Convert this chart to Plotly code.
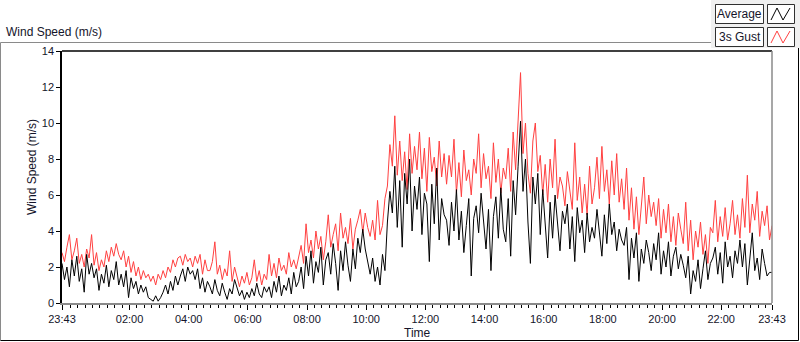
import plotly.graph_objects as go
import pandas as pd

# ---- data: 5-minute samples, 23:43 -> 23:43 next day ----
start = "2023-01-01 23:43"
avg_by_hour = [
    [2.2, 1.3, 2.0, 0.9, 2.4, 1.5, 2.6, 1.2, 1.9, 0.6, 2.7, 1.6],
    [2.2, 1.4, 1.9, 0.7, 1.6, 1.1, 2.1, 0.9, 1.8, 1.3, 2.3, 1.0],
    [1.6, 0.9, 1.8, 0.3, 1.4, 0.8, 1.2, 0.5, 1.0, 0.6, 0.9, 0.3],
    [0.2, 0.1, 0.4, 0.1, 0.3, 0.6, 1.0, 0.5, 1.2, 0.7, 1.5, 1.0],
    [1.5, 1.9, 1.2, 2.0, 1.6, 1.8, 1.3, 1.9, 0.8, 1.4, 0.6, 1.2],
    [0.9, 0.5, 1.3, 0.7, 0.4, 1.1, 0.6, 0.2, 0.8, 0.5, 1.3, 0.9],
    [0.4, 0.7, 0.2, 0.6, 0.3, 0.8, 0.4, 1.1, 0.5, 0.3, 0.9, 0.6],
    [0.9, 0.3, 1.2, 0.6, 1.5, 0.4, 1.0, 0.7, 1.4, 0.5, 1.7, 0.9],
    [1.2, 2.0, 0.8, 2.6, 1.5, 2.9, 1.1, 2.3, 1.7, 3.1, 1.0, 2.4],
    [2.8, 1.6, 3.3, 2.2, 0.7, 2.9, 1.8, 3.4, 2.1, 1.2, 3.0, 1.9],
    [3.6, 2.8, 4.1, 3.0, 2.2, 1.6, 2.5, 1.2, 2.0, 1.0, 2.7, 1.8],
    [4.5, 6.2, 5.0, 7.6, 4.2, 6.8, 3.1, 7.2, 5.5, 8.0, 4.0, 6.5],
    [5.2, 7.0, 3.8, 6.1, 5.5, 2.3, 6.6, 4.4, 7.5, 3.5, 5.8, 4.9],
    [4.6, 3.2, 5.6, 4.0, 6.3, 3.5, 5.1, 2.8, 4.3, 5.8, 1.5, 4.7],
    [5.4, 3.9, 6.1, 4.4, 3.0, 5.2, 1.8, 4.8, 5.9, 3.6, 6.4, 4.1],
    [3.4, 5.8, 2.6, 6.8, 4.9, 7.6, 10.1, 6.2, 8.0, 4.5, 2.2, 7.0],
    [5.5, 7.2, 3.8, 6.3, 4.1, 2.5, 5.6, 3.6, 6.0, 4.3, 2.9, 5.1],
    [4.4, 5.5, 3.0, 4.8, 2.3, 5.3, 3.9, 4.6, 2.8, 5.0, 3.4, 4.2],
    [3.6, 5.2, 4.0, 2.6, 4.9, 3.3, 5.5, 3.8, 4.5, 2.9, 4.1, 3.5],
    [3.2, 4.2, 1.3, 3.6, 2.5, 3.9, 1.2, 3.0, 2.2, 3.5, 2.8, 1.8],
    [3.3, 2.4, 3.9, 1.6, 2.9, 2.0, 3.4, 1.5, 2.6, 3.1, 1.9, 2.7],
    [2.1, 1.4, 2.6, 0.5, 1.8, 1.2, 2.4, 0.8, 1.9, 2.9, 1.3, 2.2],
    [2.5, 3.1, 1.6, 2.8, 1.1, 3.4, 2.0, 2.6, 1.4, 2.9, 2.2, 3.5],
    [2.0, 3.3, 1.0, 2.7, 3.9, 1.8, 2.5, 1.3, 3.0, 2.2, 1.5, 1.7],
    [1.7],
]
gust_by_hour = [
    [2.8, 2.3, 3.1, 3.8, 2.4, 2.9, 3.6, 2.2, 2.7, 2.0, 3.0, 2.5],
    [3.8, 2.1, 2.8, 1.8, 2.4, 2.0, 2.9, 2.3, 3.1, 2.6, 3.3, 2.7],
    [2.4, 2.9, 2.0, 2.6, 1.7, 2.3, 1.5, 2.0, 1.3, 1.8, 1.4, 1.6],
    [1.2, 1.5, 1.0, 1.6, 1.3, 1.8, 1.4, 2.0, 1.7, 2.4, 2.0, 2.5],
    [2.6, 2.1, 2.7, 2.3, 2.5, 2.0, 2.6, 2.2, 2.7, 1.6, 2.4, 1.8],
    [1.8, 2.3, 3.4, 1.6, 2.1, 1.3, 1.9, 1.5, 2.9, 1.2, 2.0, 1.4],
    [0.9, 1.5, 1.1, 1.7, 1.0, 1.4, 2.4, 1.2, 1.8, 1.0, 1.6, 1.3],
    [2.7, 1.5, 2.2, 1.4, 2.5, 1.8, 2.1, 1.6, 2.8, 2.0, 2.4, 1.9],
    [2.6, 3.2, 2.2, 4.4, 2.8, 3.5, 2.5, 4.0, 3.0, 3.7, 2.4, 3.4],
    [4.9, 3.1, 3.8, 4.4, 2.9, 5.0, 3.6, 4.2, 3.3, 4.7, 3.0, 4.1],
    [4.6, 5.2, 3.9, 5.0, 4.2, 3.7, 4.6, 3.5, 5.7, 3.8, 4.3, 5.8],
    [6.5, 8.8, 7.6, 10.4, 7.1, 9.0, 6.8, 8.4, 6.3, 9.4, 7.2, 8.7],
    [7.4, 9.5, 6.9, 8.6, 6.2, 9.2, 7.3, 8.1, 6.5, 9.0, 7.0, 8.3],
    [6.6, 8.2, 7.0, 9.1, 6.1, 7.8, 5.9, 8.5, 6.8, 7.4, 6.0, 8.0],
    [7.2, 9.4, 6.4, 8.3, 6.9, 7.6, 5.8, 8.9, 6.7, 8.0, 6.1, 7.5],
    [6.9, 8.6, 6.2, 9.5, 7.4, 9.9, 12.8, 8.3, 10.0, 7.2, 6.1, 9.0],
    [10.0, 7.3, 8.2, 6.0, 7.7, 5.6, 8.0, 6.4, 9.1, 5.8, 7.0, 6.5],
    [5.4, 7.3, 6.1, 5.2, 8.9, 5.7, 7.0, 5.0, 6.6, 4.9, 7.6, 5.5],
    [6.4, 8.1, 5.8, 8.7, 6.2, 7.4, 5.5, 7.9, 6.0, 8.3, 5.6, 6.9],
    [5.2, 7.5, 4.6, 6.4, 4.1, 5.9, 3.8, 5.5, 7.0, 4.4, 6.0, 4.8],
    [5.6, 4.3, 5.8, 3.6, 5.2, 3.9, 5.5, 3.4, 4.8, 3.2, 5.0, 4.1],
    [3.3, 5.6, 2.9, 4.6, 2.4, 4.0, 3.1, 4.5, 2.7, 3.8, 2.2, 4.2],
    [3.9, 5.7, 3.4, 4.8, 3.7, 5.3, 3.5, 4.4, 5.7, 3.8, 4.9, 3.6],
    [5.8, 4.2, 7.1, 3.9, 5.5, 4.6, 6.2, 3.7, 5.1, 4.3, 5.4, 3.5],
    [4.3],
]
tick_times = ["2023-01-01 23:43", "2023-01-02 02:00", "2023-01-02 04:00", "2023-01-02 06:00",
              "2023-01-02 08:00", "2023-01-02 10:00", "2023-01-02 12:00", "2023-01-02 14:00",
              "2023-01-02 16:00", "2023-01-02 18:00", "2023-01-02 20:00", "2023-01-02 22:00",
              "2023-01-02 23:43"]
tick_labels = ["23:43", "02:00", "04:00", "06:00", "08:00", "10:00", "12:00", "14:00",
               "16:00", "18:00", "20:00", "22:00", "23:43"]
y_ticks = [0, 2, 4, 6, 8, 10, 12, 14]

avg = [v for row in avg_by_hour for v in row]
gust = [v for row in gust_by_hour for v in row]
times = pd.date_range(start=start, periods=len(avg), freq="5min")

# ---- layout geometry (pixels) ----
W, H = 800, 342
L, R, T, B = 62, 28, 51, 39
PW, PH = W - L - R, H - T - B


def px(x):
    return (x - L) / PW


def py(y):
    return (H - B - y) / PH


FONT = "Liberation Sans"
TXT = "#14142a"

fig = go.Figure()
fig.add_trace(go.Scatter(x=times, y=gust, mode="lines", name="3s Gust",
                         line=dict(color="#ff4040", width=1), hoverinfo="skip"))
fig.add_trace(go.Scatter(x=times, y=avg, mode="lines", name="Average",
                         line=dict(color="#000000", width=1), hoverinfo="skip"))

shapes = []
# outer panel frame
shapes.append(dict(type="line", xref="paper", yref="paper", x0=px(0.5), x1=px(711), y0=py(42.5), y1=py(42.5),
                   line=dict(color="#8a8a8a", width=1)))
shapes.append(dict(type="line", xref="paper", yref="paper", x0=px(0.5), x1=px(0.5), y0=py(42.5), y1=py(340.5),
                   line=dict(color="#8a8a8a", width=1)))
shapes.append(dict(type="line", xref="paper", yref="paper", x0=px(0.5), x1=px(798.5), y0=py(340.5), y1=py(340.5),
                   line=dict(color="#000000", width=1)))
shapes.append(dict(type="line", xref="paper", yref="paper", x0=px(798.5), x1=px(798.5), y0=py(48), y1=py(340.5),
                   line=dict(color="#000000", width=1)))
# plot-area top / right border
shapes.append(dict(type="line", xref="paper", yref="paper", x0=0, x1=1, y0=1, y1=1,
                   line=dict(color="#000000", width=1.5)))
shapes.append(dict(type="line", xref="paper", yref="paper", x0=1, x1=1, y0=0, y1=1,
                   line=dict(color="#8a8a8a", width=1.5)))
# legend panel
shapes.append(dict(type="rect", xref="paper", yref="paper", x0=px(711), x1=px(800), y0=py(0), y1=py(48),
                   fillcolor="#f0f0f0", line=dict(width=0), layer="below"))
for (y0, y1, col) in [(4, 23, "#000000"), (27, 46, "#ff4040")]:
    shapes.append(dict(type="rect", xref="paper", yref="paper", x0=px(715.5), x1=px(763.5), y0=py(y0 + 0.5), y1=py(y1 + 0.5),
                       fillcolor="#ffffff", line=dict(color="#303030", width=1)))
    shapes.append(dict(type="rect", xref="paper", yref="paper", x0=px(767.5), x1=px(794.5), y0=py(y0 + 0.5), y1=py(y1 + 0.5),
                       fillcolor="#ffffff", line=dict(color="#303030", width=1)))
    pts = [(771, y1 - 3), (777, y0 + 4), (783, y1 - 3), (790, y0 + 4)]
    path = "M " + " L ".join(f"{px(a)},{py(b)}" for a, b in pts)
    shapes.append(dict(type="path", xref="paper", yref="paper", path=path, line=dict(color=col, width=1)))

annotations = [
    dict(text="Wind Speed (m/s)", xref="paper", yref="paper", x=px(4), y=py(32), xanchor="left", yanchor="middle",
         showarrow=False, font=dict(family=FONT, size=12, color=TXT)),
    dict(text="Wind Speed (m/s)", xref="paper", yref="paper", x=px(32), y=py(167), xanchor="center", yanchor="middle",
         textangle=-90, showarrow=False, font=dict(family=FONT, size=12, color=TXT)),
    dict(text="Time", xref="paper", yref="paper", x=px(417), y=py(333), xanchor="center", yanchor="middle",
         showarrow=False, font=dict(family=FONT, size=12, color=TXT)),
    dict(text="Average", xref="paper", yref="paper", x=px(739.5), y=py(14), xanchor="center", yanchor="middle",
         showarrow=False, font=dict(family=FONT, size=12, color=TXT)),
    dict(text="3s Gust", xref="paper", yref="paper", x=px(739.5), y=py(37), xanchor="center", yanchor="middle",
         showarrow=False, font=dict(family=FONT, size=12, color=TXT)),
]

fig.update_layout(
    width=W, height=H,
    margin=dict(l=L, r=R, t=T, b=B, pad=0),
    paper_bgcolor="#ffffff", plot_bgcolor="#ffffff",
    showlegend=False, hovermode=False,
    shapes=shapes, annotations=annotations,
    font=dict(family=FONT, size=11, color=TXT),
)
fig.update_xaxes(
    range=[tick_times[0], tick_times[-1]],
    tickmode="array", tickvals=tick_times, ticktext=tick_labels,
    ticks="outside", ticklen=5, tickcolor="#000000", tickwidth=1,
    minor=dict(ticks="outside", ticklen=3, tickcolor="#000000", dtick=15 * 60 * 1000,
               tick0="2023-01-01 00:00", showgrid=False),
    showline=True, linecolor="#8a8a8a", linewidth=1.5,
    showgrid=False, zeroline=False,
    tickfont=dict(family=FONT, size=11, color=TXT),
)
fig.update_yaxes(
    range=[0, 14], tickmode="array", tickvals=y_ticks,
    ticks="outside", ticklen=4, tickcolor="#000000",
    showline=True, linecolor="#000000", linewidth=1.5,
    showgrid=False, zeroline=False,
    tickfont=dict(family=FONT, size=11, color=TXT),
)

fig.write_html("out.html", config={"displayModeBar": False})

# remove the browser's default page margin so the figure sits at (0, 0)
with open("out.html", encoding="utf-8") as f:
    html = f.read()
html = html.replace("<head>", "<head><style>html,body{margin:0;padding:0;overflow:hidden;}</style>", 1)
with open("out.html", "w", encoding="utf-8") as f:
    f.write(html)
